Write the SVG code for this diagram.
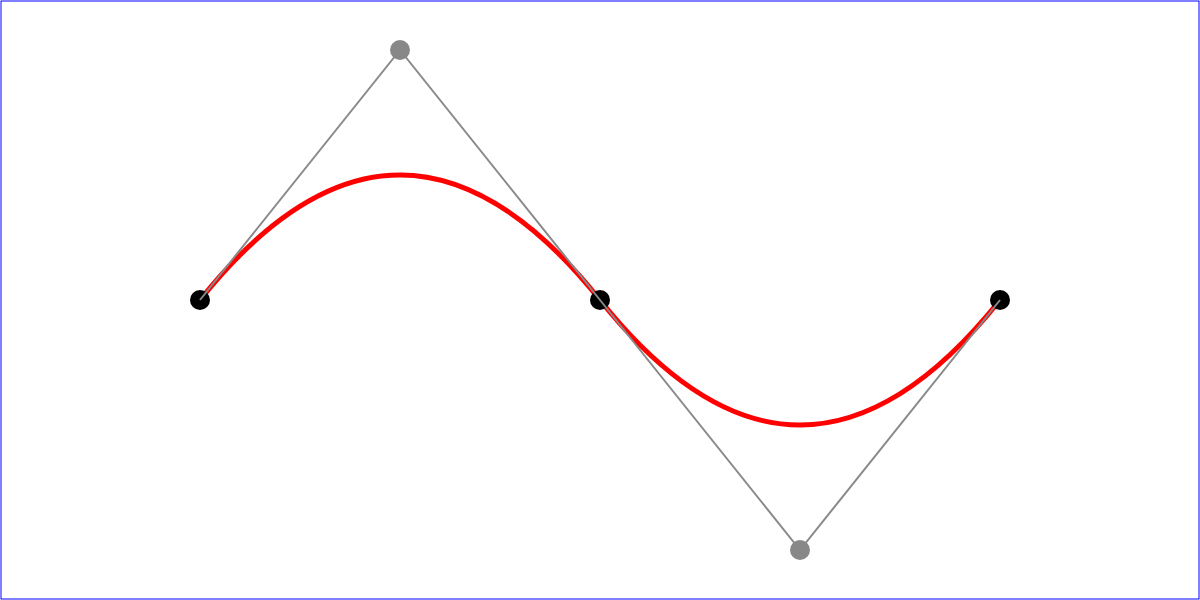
<svg xmlns="http://www.w3.org/2000/svg" width="1200" height="600" viewBox="0 0 1200 600">
<style>
.frame{fill:none;stroke:blue;stroke-width:1}
.curve{fill:none;stroke:red;stroke-width:5}
.end{fill:black}
.ctrl{fill:#888888}
.poly{fill:none;stroke:#888888;stroke-width:2}
</style>
<rect class="frame" x="1" y="1" width="1198" height="598"/>
<g id="curve-group">
<path class="curve" d="M200,300 Q400,50 600,300 T1000,300"/>
</g>
<g id="p1"><circle class="end" cx="200" cy="300" r="10"/></g>
<g id="p2"><circle class="end" cx="600" cy="300" r="10"/></g>
<g id="p3"><circle class="end" cx="1000" cy="300" r="10"/></g>
<g id="c1"><circle class="ctrl" cx="400" cy="50" r="10"/></g>
<g id="c2"><circle class="ctrl" cx="800" cy="550" r="10"/></g>
<g id="connectors">
<polyline class="poly" points="200,300 400,50 600,300 800,550 1000,300"/>
</g>
</svg>
